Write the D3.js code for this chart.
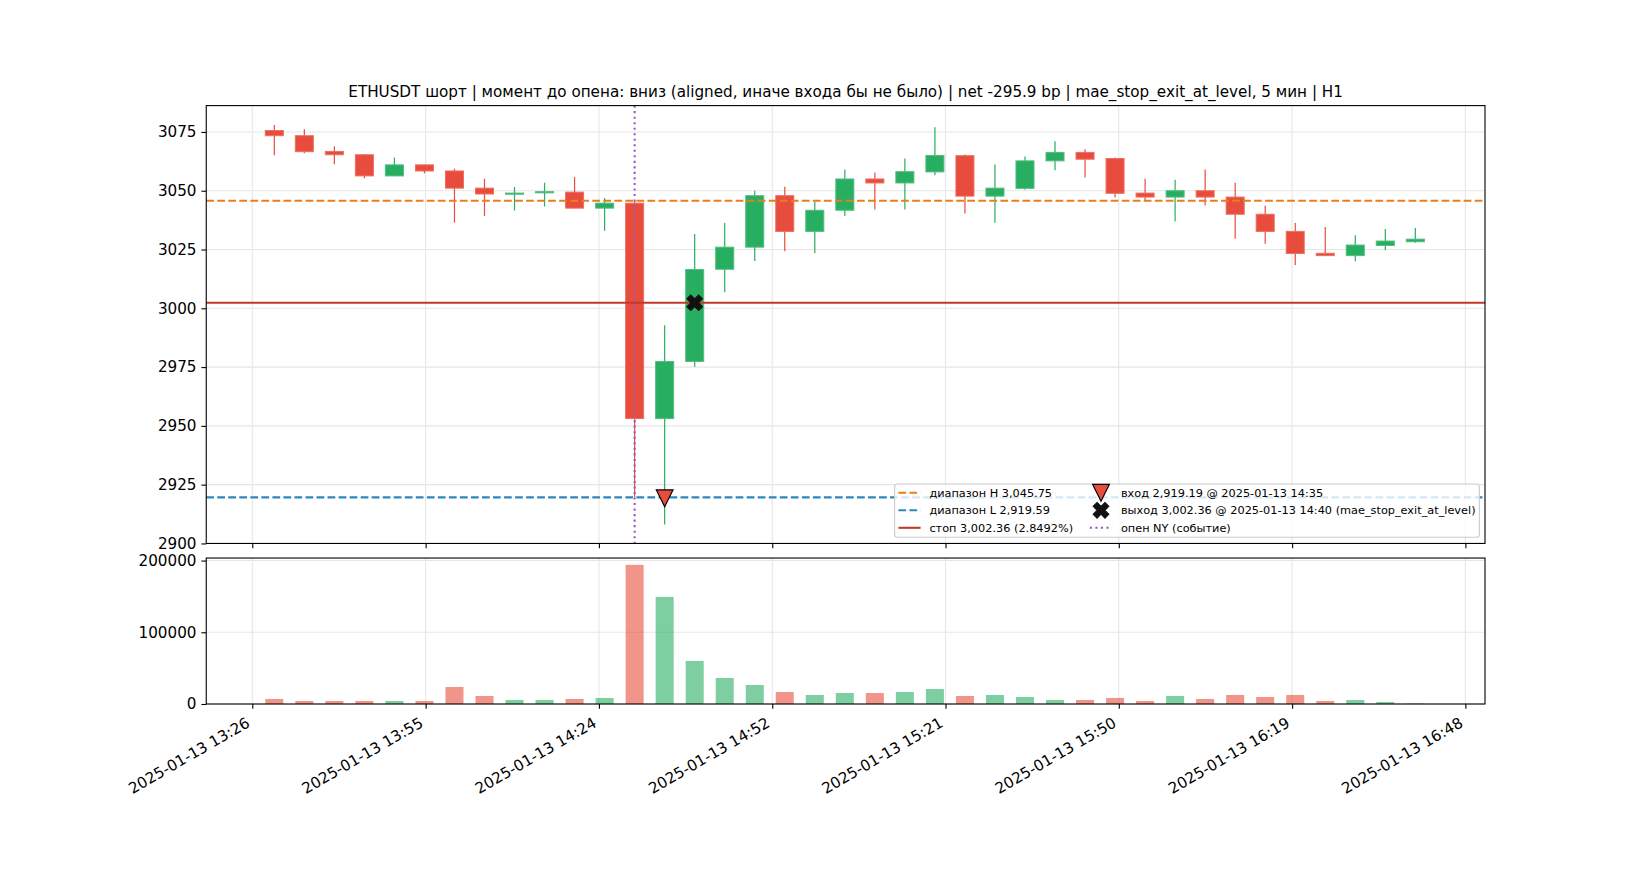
<!DOCTYPE html>
<html>
<head>
<meta charset="utf-8">
<script src="https://cdn.jsdelivr.net/npm/d3@7"></script>
<style>
  body { margin: 0; background: #fff; }
  text { font-family: "DejaVu Sans", sans-serif; }
</style>
</head>
<body>
<div id="chart"></div>
<script>
// 5 min candles, ETHUSDT, 2025-01-13
var candleTimes = ["13:30","13:35","13:40","13:45","13:50","13:55","14:00","14:05","14:10","14:15",
  "14:20","14:25","14:30","14:35","14:40","14:45","14:50","14:55","15:00","15:05",
  "15:10","15:15","15:20","15:25","15:30","15:35","15:40","15:45","15:50","15:55",
  "16:00","16:05","16:10","16:15","16:20","16:25","16:30","16:35","16:40"]
var opens  = [3075.6,3073.4,3066.7,3065.3,3056.3,3061.0,3058.4,3051.1,3048.5,3049.1,
  3049.4,3042.6,3044.7,2953.1,2977.4,3016.6,3026.0,3047.9,3032.7,3041.7,
  3055.0,3053.3,3058.0,3064.9,3047.7,3051.0,3062.7,3066.3,3063.7,3049.0,
  3047.3,3050.0,3047.3,3040.0,3032.7,3023.4,3022.4,3026.7,3028.3]
var highs  = [3077.9,3076.1,3068.9,3065.5,3064.1,3061.1,3059.4,3055.1,3051.6,3053.4,
  3055.9,3046.9,3045.75,2992.8,3031.6,3036.3,3050.0,3051.7,3045.3,3059.0,
  3057.7,3063.7,3077.0,3065.4,3061.1,3064.6,3071.0,3067.6,3064.1,3055.1,
  3054.7,3059.0,3053.4,3043.6,3036.3,3034.6,3031.1,3033.7,3034.1]
var lows   = [3065.1,3065.9,3061.3,3055.3,3056.2,3057.4,3036.4,3039.3,3041.6,3043.3,
  3042.5,3033.0,2919.6,2908.1,2975.1,3006.8,3020.1,3024.3,3023.4,3039.3,
  3042.0,3042.0,3056.6,3040.3,3036.4,3050.4,3058.7,3055.6,3047.1,3045.9,
  3036.9,3043.7,3029.6,3027.4,3018.4,3022.3,3020.0,3024.7,3027.9]
var closes = [3073.4,3066.6,3065.3,3056.3,3061.0,3058.4,3051.1,3048.6,3049.0,3049.6,
  3042.6,3044.7,2953.1,2977.4,3016.5,3026.0,3047.9,3032.7,3041.7,3055.0,
  3053.3,3058.1,3065.0,3047.7,3051.1,3062.7,3066.3,3063.4,3048.9,3047.3,
  3050.0,3047.3,3040.0,3032.7,3023.3,3022.4,3026.9,3028.6,3029.4]
var volumes = [7000,4200,4200,4200,4200,4200,23700,11200,5600,5600,
  7000,8400,194000,149300,60000,36300,26500,16700,12600,15300,
  15300,16700,20900,11200,12600,9800,5600,5600,8400,4200,
  11200,7000,12600,9800,12600,4200,5600,2800,600]

var tickTimes = ["13:26:20","13:55:12","14:24:03","14:52:55","15:21:46","15:50:37","16:19:29","16:48:20"]
var priceTicks = [2900,2925,2950,2975,3000,3025,3050,3075]
var volumeTicks = [0,100000,200000]

var rangeHigh = 3045.75
var rangeLow = 2919.59
var stopLevel = 3002.36
var entryTime = "14:35", entryPrice = 2919.19
var exitTime = "14:40", exitPrice = 3002.36
var openTime = "14:30"

var title = "ETHUSDT шорт | момент до опена: вниз (aligned, иначе входа бы не было) | net -295.9 bp | mae_stop_exit_at_level, 5 мин | H1"
var legendLabels = ["диапазон H 3,045.75","диапазон L 2,919.59","стоп 3,002.36 (2.8492%)",
  "вход 2,919.19 @ 2025-01-13 14:35","выход 3,002.36 @ 2025-01-13 14:40 (mae_stop_exit_at_level)","опен NY (событие)"]

var red = "#e74c3c", green = "#27ae60"
var w = 1650, h = 880
var left = 206.25, right = 1485
var pTop = 105.6, pBot = 543.45
var vTop = 558.05, vBot = 704
var tick = 4.86
var fontSize = '15.2px'

var day = "2025-01-13 "
var parse = d3.utcParse("%Y-%m-%d %H:%M:%S")
function t(s){ return parse(day + (s.length == 5 ? s + ":00" : s)) }

var x = d3.scaleUtc()
  .domain([t("13:18:40"), t("16:51:36")])
  .range([left, right])
var y = d3.scaleLinear().domain([2900, 3086.2]).range([pBot, pTop])
var yv = d3.scaleLinear().domain([0, 203500]).range([vBot, vTop])

var halfW = (x(t("13:31:30")) - x(t("13:30:00")))

var data = candleTimes.map(function(c, i){
  return {t: t(c), o: opens[i], h: highs[i], l: lows[i], c: closes[i], v: volumes[i]}
})

var svg = d3.select('#chart').append('svg')
  .attr('width', w).attr('height', h)
svg.append('rect').attr('width', w).attr('height', h).attr('fill', 'white')

var gridColor = "#e6e6e6"
var tickDates = tickTimes.map(t)

// grids
function grid(yScale, yTicks, top, bot){
  var g = svg.append('g')
  g.selectAll('.gx').data(tickDates).enter().append('line')
    .attr('x1', function(d){ return x(d) }).attr('x2', function(d){ return x(d) })
    .attr('y1', top).attr('y2', bot)
    .attr('stroke', gridColor).attr('stroke-width', 1.1)
  g.selectAll('.gy').data(yTicks).enter().append('line')
    .attr('x1', left).attr('x2', right)
    .attr('y1', function(d){ return yScale(d) }).attr('y2', function(d){ return yScale(d) })
    .attr('stroke', gridColor).attr('stroke-width', 1.1)
}
grid(y, priceTicks, pTop, pBot)
grid(yv, volumeTicks, vTop, vBot)

// candles
var cg = svg.append('g')
cg.selectAll('.wick').data(data).enter().append('line')
  .attr('x1', function(d){ return x(d.t) }).attr('x2', function(d){ return x(d.t) })
  .attr('y1', function(d){ return y(d.h) }).attr('y2', function(d){ return y(d.l) })
  .attr('stroke', function(d){ return d.c >= d.o ? green : red })
  .attr('stroke-width', 1.2)
cg.selectAll('.body').data(data).enter().append('rect')
  .attr('x', function(d){ return x(d.t) - halfW })
  .attr('width', halfW * 2)
  .attr('y', function(d){ return y(Math.max(d.o, d.c)) })
  .attr('height', function(d){ return Math.max(1.2, Math.abs(y(d.o) - y(d.c))) })
  .attr('fill', function(d){ return d.c >= d.o ? green : red })
  .attr('stroke', function(d){ return d.c >= d.o ? "#52be80" : "#ec7063" })
  .attr('stroke-width', 1)

// volume bars
svg.append('g').selectAll('rect').data(data).enter().append('rect')
  .attr('x', function(d){ return x(d.t) - halfW })
  .attr('width', halfW * 2)
  .attr('y', function(d){ return yv(d.v) })
  .attr('height', function(d){ return yv(0) - yv(d.v) })
  .attr('fill', function(d){ return d.c >= d.o ? green : red })
  .attr('fill-opacity', 0.6)

// levels
function hline(v, color, dash){
  svg.append('line')
    .attr('x1', left).attr('x2', right)
    .attr('y1', y(v)).attr('y2', y(v))
    .attr('stroke', color).attr('stroke-width', 2.08)
    .attr('stroke-dasharray', dash)
}
hline(rangeHigh, "#e67e22", "7.7,3.33")
hline(rangeLow, "#2e86c1", "7.7,3.33")
hline(stopLevel, "#c0392b", null)

svg.append('line')
  .attr('x1', x(t(openTime))).attr('x2', x(t(openTime)))
  .attr('y1', pTop).attr('y2', pBot)
  .attr('stroke', "#9b59b6").attr('stroke-width', 2.08)
  .attr('stroke-dasharray', "2.08,3.44")

// markers
var ms = 8.35
function triPath(){
  var p = d3.path()
  p.moveTo(-ms, -ms); p.lineTo(ms, -ms); p.lineTo(0, ms); p.closePath()
  return p.toString()
}
var xSym = d3.symbol().type(d3.symbolCross).size(5 * Math.pow(2 * ms / 3, 2))
function drawEntry(px, py){
  svg.append('path').attr('d', triPath())
    .attr('transform', 'translate(' + px + ',' + py + ')')
    .attr('fill', red).attr('stroke', 'black').attr('stroke-width', 1.2)
}
function drawExit(px, py){
  svg.append('path').attr('d', xSym())
    .attr('transform', 'translate(' + px + ',' + py + ') rotate(45)')
    .attr('fill', '#111').attr('stroke', '#111').attr('stroke-width', 1)
}
drawEntry(x(t(entryTime)), y(entryPrice))
drawExit(x(t(exitTime)), y(exitPrice))

// axes
function styleAxis(g){
  g.select('.domain').remove()
  g.selectAll('.tick line').attr('stroke', 'black').attr('stroke-width', 1.1)
  g.selectAll('.tick text').attr('font-size', fontSize).attr('fill', 'black')
    .attr('font-family', '"DejaVu Sans", sans-serif')
}
var fmt = d3.utcFormat("%Y-%m-%d %H:%M")
svg.append('g').attr('transform', 'translate(0,' + pBot + ')')
  .call(d3.axisBottom(x).tickValues(tickDates).tickSize(tick).tickFormat(''))
  .call(styleAxis)
var xv = svg.append('g').attr('transform', 'translate(0,' + vBot + ')')
  .call(d3.axisBottom(x).tickValues(tickDates).tickSize(tick).tickFormat(fmt))
  .call(styleAxis)
xv.selectAll('.tick text')
  .attr('x', 0).attr('y', 0).attr('dy', 0)
  .attr('text-anchor', 'end')
  .attr('transform', 'translate(-1.8,21.8) rotate(-30)')

svg.append('g').attr('transform', 'translate(' + left + ',0)')
  .call(d3.axisLeft(y).tickValues(priceTicks).tickSize(tick).tickPadding(tick).tickFormat(d3.format('d')))
  .call(styleAxis)
svg.append('g').attr('transform', 'translate(' + left + ',0)')
  .call(d3.axisLeft(yv).tickValues(volumeTicks).tickSize(tick).tickPadding(tick).tickFormat(d3.format('d')))
  .call(styleAxis)

// spines
svg.append('rect').attr('x', left).attr('y', pTop).attr('width', right - left).attr('height', pBot - pTop)
  .attr('fill', 'none').attr('stroke', 'black').attr('stroke-width', 1.1)
svg.append('rect').attr('x', left).attr('y', vTop).attr('width', right - left).attr('height', vBot - vTop)
  .attr('fill', 'none').attr('stroke', 'black').attr('stroke-width', 1.1)

// title
svg.append('text').attr('x', (left + right) / 2).attr('y', 96.5)
  .attr('text-anchor', 'middle').attr('font-size', fontSize).attr('fill', 'black')
  .text(title)

// legend
var lg = svg.append('g')
lg.append('rect').attr('x', 894.6).attr('y', 484).attr('width', 584.8).attr('height', 53.3)
  .attr('rx', 3).attr('fill', 'white').attr('fill-opacity', 0.8)
  .attr('stroke', '#cccccc').attr('stroke-width', 1.1)
var rows = [492.8, 510.3, 527.8]
var col1 = 898.4, col2 = 1089.9
var handles = [
  {type: 'line', color: "#e67e22", dash: "7.7,3.33"},
  {type: 'line', color: "#2e86c1", dash: "7.7,3.33"},
  {type: 'line', color: "#c0392b", dash: null},
  {type: 'entry'},
  {type: 'exit'},
  {type: 'line', color: "#9b59b6", dash: "2.08,3.44"}
]
handles.forEach(function(hd, i){
  var hx = i < 3 ? col1 : col2
  var hy = rows[i % 3]
  if (hd.type == 'line'){
    lg.append('line').attr('x1', hx).attr('x2', hx + 22.2).attr('y1', hy).attr('y2', hy)
      .attr('stroke', hd.color).attr('stroke-width', 2.08).attr('stroke-dasharray', hd.dash)
  } else if (hd.type == 'entry'){
    drawEntry(hx + 11.1, hy)
  } else {
    drawExit(hx + 11.1, hy)
  }
  lg.append('text').attr('x', hx + 31).attr('y', hy).attr('dy', '0.35em')
    .attr('font-size', '11.3px').attr('fill', 'black')
    .text(legendLabels[i])
})
</script>
</body>
</html>
